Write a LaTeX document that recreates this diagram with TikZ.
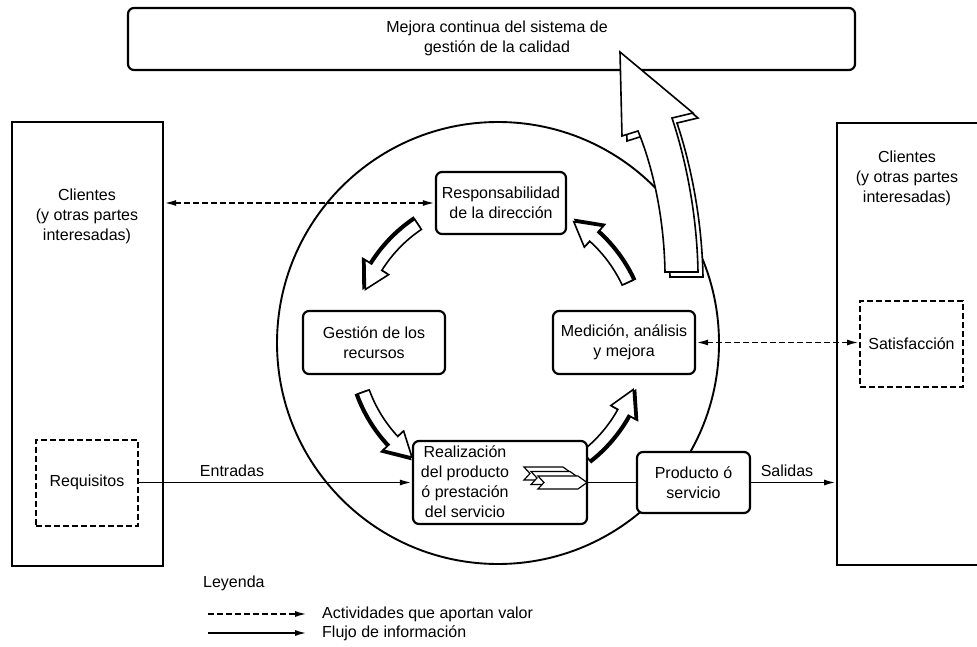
\documentclass[tikz,border=0pt]{standalone}
\usepackage{fontspec}
\setmainfont{Liberation Sans}
\usetikzlibrary{arrows.meta}
\newcommand{\arcpoly}[4]{%
  \pgfmathsetmacro{\ahd}{#2-10}%
  \pgfmathsetmacro{\rA}{143+#3+6}%
  \pgfmathsetmacro{\rB}{143+#3-6}%
  \pgfmathsetmacro{\rC}{143+#3+14}%
  \pgfmathsetmacro{\rD}{143+#3-14}%
  \pgfmathsetmacro{\rM}{143+#3}%
  \draw[blk, fill=#4] (#1:\rA) arc[start angle=#1, end angle=\ahd, radius=\rA] -- (\ahd:\rC) -- (#2:\rM) -- (\ahd:\rD) -- (\ahd:\rB) arc[start angle=\ahd, end angle=#1, radius=\rB] -- cycle;}
\newcommand{\arcarrow}[2]{\arcpoly{#1}{#2}{2.5}{black}\arcpoly{#1}{#2}{0}{white}}
\newcommand{\chev}[3]{%
  \draw[blk, line width=1.2pt] (#1,#2) -- (#3-9,#2) -- (#3,#2+6.5) -- (#3-9,#2+13) -- (#1,#2+13) -- (#1+6,#2+6.5) -- cycle;}
\begin{document}
\begin{tikzpicture}[x=1pt,y=-1pt,
  fnt/.style={font=\fontsize{16}{20}\selectfont},
  rbox/.style={draw, line width=2.2pt, rounded corners=6pt, fill=white, align=center, inner sep=0pt, fnt},
  bigbox/.style={draw, line width=2.2pt, inner sep=0pt, fill=white},
  dbox/.style={draw, dash pattern=on 6pt off 3pt, line width=2pt, inner sep=0pt, fill=white, fnt},
  txt/.style={align=center, inner sep=0pt, fnt},
  tip/.style={-{Latex[length=12pt,width=6pt]}},
  tips/.style={{Latex[length=12pt,width=6pt]}-{Latex[length=12pt,width=6pt]}},
  flow/.style={line width=1.9pt},
  dflow/.style={line width=1.9pt, dash pattern=on 6pt off 3pt},
  blk/.style={draw, fill=white, line width=1.6pt, line join=miter}
]
\useasboundingbox (0,0) rectangle (977,647);
\fill[white] (0,0) rectangle (977,647);

% top box
\node[rbox, minimum width=727pt, minimum height=62pt] (top) at (491.5,39) {};
\node[txt] (toptxt) at (497,38) {Mejora continua del sistema de\\gestión de la calidad};

% left customers box
\node[bigbox, minimum width=151pt, minimum height=444pt] (lbox) at (87.5,344) {};
\node[txt] (ltxt) at (87,216) {Clientes\\(y otras partes\\interesadas)};
\node[dbox, minimum width=102pt, minimum height=86pt] (req) at (87,482.5) {Requisitos};

% right customers box
\node[bigbox, minimum width=170pt, minimum height=442pt, anchor=west] (rbox) at (836,344) {};
\node[txt] (rtxt) at (907,178) {Clientes\\(y otras partes\\interesadas)};
\node[dbox, minimum width=103pt, minimum height=86pt] (sat) at (911.5,344) {Satisfacción};

% circle
\node[draw, circle, line width=1.9pt, minimum size=442pt, inner sep=0pt] (circ) at (498,343) {};

% big improvement arrow
\begin{scope}[shift={(5,5)}]
\draw[blk] (620,52) -- (693,113) -- (672,118) .. controls (686,160) and (697,215) .. (698,272) -- (665,272) .. controls (664,215) and (652,165) .. (638,131) -- (622,136) -- cycle;
\end{scope}
\draw[blk] (620,52) -- (693,113) -- (672,118) .. controls (686,160) and (697,215) .. (698,272) -- (665,272) .. controls (664,215) and (652,165) .. (638,131) -- (622,136) -- cycle;

% cycle arrows
\begin{scope}[shift={(498,343)}, yscale=-1]
\arcarrow{124}{158}
\arcarrow{200}{233}
\arcarrow{308}{341}
\arcarrow{25}{58}
\end{scope}

% process boxes
\node[rbox, minimum width=130pt, minimum height=62pt] (resp) at (501,203) {Responsabilidad\\de la dirección};
\node[rbox, minimum width=142pt, minimum height=63pt] (gest) at (374,342.5) {Gestión de los\\recursos};
\node[rbox, minimum width=142pt, minimum height=63pt] (med) at (624,342.5) {Medición, análisis\\y mejora};
\node[rbox, minimum width=174pt, minimum height=83pt] (real) at (500,482.5) {};
\node[txt] (realtxt) at (465,482) {Realización\\del producto\\ó prestación\\del servicio};
\node[rbox, minimum width=113pt, minimum height=61pt] (prod) at (693.5,482.5) {Producto ó\\servicio};

% chevrons
\chev{524}{467}{572}
\chev{531}{471.5}{579}
\chev{538}{476}{587}

% connectors
\draw[dflow, tips] (lbox.east |- resp.west) -- (resp.west);
\draw[dflow, tips] (med.east) -- (sat.west |- med.east);
\draw[flow, tip] (req.east) -- (real.west |- req.east);
\draw[flow] (real.east) -- (prod.west);
\draw[flow, tip] (prod.east) -- (rbox.west |- prod.east);
\node[txt] (entr) at (232,471) {Entradas};
\node[txt] (sal) at (787,471) {Salidas};

% legend
\node[txt, anchor=west] (ley) at (203,583) {Leyenda};
\coordinate (l1a) at (208,614);
\coordinate (l1b) at (307,614);
\coordinate (l2a) at (208,633);
\coordinate (l2b) at (307,633);
\draw[dflow, tip] (l1a) -- (l1b);
\draw[flow, tip] (l2a) -- (l2b);
\node[txt, anchor=west] (l1t) at (322,614) {Actividades que aportan valor};
\node[txt, anchor=west] (l2t) at (322,633) {Flujo de información};
\end{tikzpicture}
\end{document}
